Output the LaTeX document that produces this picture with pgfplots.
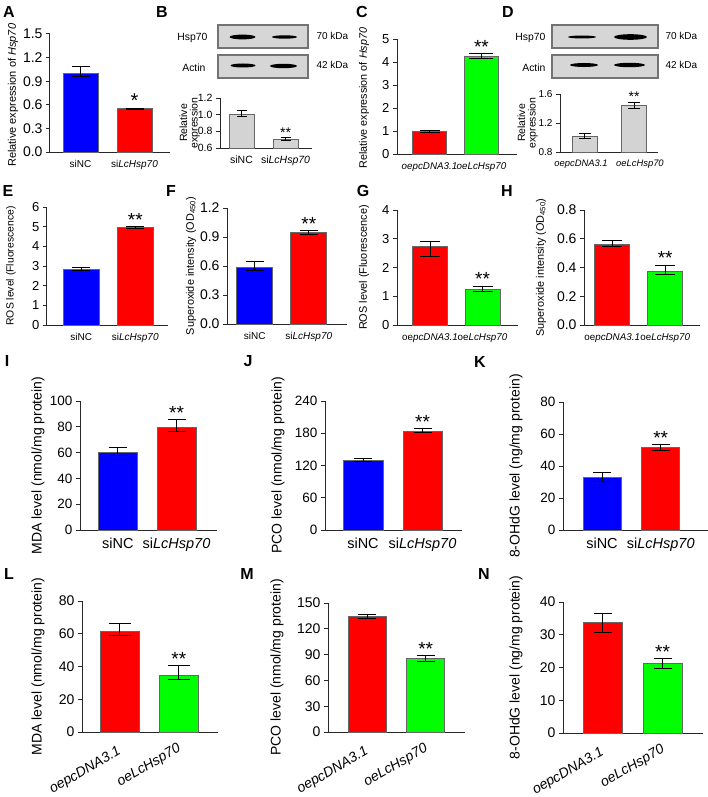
\documentclass[border=0pt]{standalone}
\usepackage{fontspec}
\setmainfont{Liberation Sans}
\usepackage{pgfplots}
\pgfplotsset{compat=1.18}
\newcommand{\fs}[1]{\fontsize{#1}{#1}\selectfont}
\definecolor{cblue}{RGB}{0,0,255}
\definecolor{cred}{RGB}{255,0,0}
\definecolor{cgreen}{RGB}{0,255,0}
\definecolor{cgray}{RGB}{211,211,211}
\definecolor{axgray}{RGB}{40,40,40}
\definecolor{blotbg}{RGB}{214,214,214}
\pgfplotsset{
 panel/.style={scale only axis, anchor=south west, axis x line*=bottom, axis y line*=left,
   axis line style={-, line width=1pt, draw=axgray}, xtick={0,1}, xtick style={draw=none},
   ytick style={line width=1pt, draw=axgray}, tick align=outside, major tick length=4pt,
   clip mode=individual, /pgf/number format/assume math mode=true, ymin=0,
   ylabel style={anchor=center, align=center}, xticklabel style={inner sep=1pt}, xticklabel shift=3pt},
 fixed1/.style={yticklabel style={/pgf/number format/fixed, /pgf/number format/fixed zerofill, /pgf/number format/precision=1}},
 hbar/.style n args={3}{ybar, bar shift=0pt, bar width=#1, fill=#2, draw=black!60, line width=0.7pt,
   error bars/.cd, y dir=both, y explicit, error bar style={line width=0.8pt, black},
   error mark options={rotate=90, mark size=#3, line width=0.8pt, black}},
}
\tikzset{rotlab/.style={rotate=30, anchor=east, inner sep=0pt, font=\fs{14}\itshape}}
\begin{document}
\begin{tikzpicture}
\path[use as bounding box] (0pt,0pt) rectangle (708pt,-797pt);
% panel letters
\begin{scope}[x=1pt,y=-1pt]
\foreach \l/\px/\py in {A/9/12, B/162/12, C/362/12, D/508/12, E/8/191, F/171/191, G/363/191, H/507/191, I/7/361, J/248/361, K/480/362, L/9/574, M/247/574, N/484/574}
  \node[font=\fs{16}\bfseries, inner sep=0pt] at (\px,\py) {\l};
% blot B
\draw[line width=1.2pt, draw=black!55, fill=blotbg] (218,25) rectangle (308,48);
\fill[black] (242.5,37) ellipse (13 and 2.4);
\fill[black] (284.5,37) ellipse (12.5 and 1.7);
\draw[line width=1.2pt, draw=black!55, fill=blotbg] (218,55) rectangle (308,78);
\fill[black] (243,65.5) ellipse (12.5 and 2);
\fill[black] (283.5,66) ellipse (13.5 and 2.2);
\node[anchor=east, font=\fs{10.4}] at (211,38) {Hsp70};
\node[anchor=east, font=\fs{10.4}] at (209,68) {Actin};
\node[anchor=west, font=\fs{10}] at (313,36) {70 kDa};
\node[anchor=west, font=\fs{10}] at (313,65) {42 kDa};
% blot D
\draw[line width=1.2pt, draw=black!55, fill=blotbg] (552,25) rectangle (658,48);
\fill[black] (582,37) ellipse (14 and 1.5);
\fill[black] (630.5,37) ellipse (16.5 and 2.8);
\draw[line width=1.2pt, draw=black!55, fill=blotbg] (552,55) rectangle (658,78);
\fill[black] (584,65) ellipse (14 and 2);
\fill[black] (629.5,65) ellipse (15.5 and 2.2);
\node[anchor=east, font=\fs{10.4}] at (549,38) {Hsp70};
\node[anchor=east, font=\fs{10.4}] at (549,68) {Actin};
\node[anchor=west, font=\fs{10}] at (662,36) {70 kDa};
\node[anchor=west, font=\fs{10}] at (662,65) {42 kDa};
\end{scope}

% A
\begin{axis}[panel, fixed1, at={(50pt,-152pt)}, width=120pt, height=118pt,
  xmin=-0.565, xmax=1.657, ymax=1.5, ytick={0,0.3,0.6,0.9,1.2,1.5},
  tick label style={font=\fs{14}}, xticklabel style={font=\fs{10}},
  xticklabels={siNC, si\textit{LcHsp70}},
  ylabel={Relative expression of \textit{Hsp70}}, ylabel style={font=\fs{11}, at={(axis description cs:-0.308,0.48)}}]
\addplot[hbar={35pt}{cblue}{9pt}] coordinates {(0,1.0) += (0,0.09) -= (0,0.045)};
\addplot[hbar={35pt}{cred}{9pt}] coordinates {(1,0.55) += (0,0.01) -= (0,0.005)};
\node[font=\fs{20}, anchor=base, inner sep=0pt] at (axis cs:1,0.56) {*};
\end{axis}

% B
\begin{axis}[panel, fixed1, at={(220pt,-148pt)}, width=92pt, height=50pt,
  xmin=-0.489, xmax=1.602, ymin=0.6, ymax=1.2, ytick={0.6,0.8,1.0,1.2},
  tick label style={font=\fs{10.5}}, xticklabel style={font=\fs{10.5}},
  xticklabels={siNC, si\textit{LcHsp70}},
  ylabel={Relative\\expression}, ylabel style={font=\fs{10.5}, at={(axis description cs:-0.33,0.5)}}]
\addplot[hbar={25pt}{cgray}{5pt}] coordinates {(0,1.008) += (0,0.04) -= (0,0.03)};
\addplot[hbar={25pt}{cgray}{5pt}] coordinates {(1,0.70) += (0,0.028) -= (0,0.012)};
\node[font=\fs{14}, anchor=base, inner sep=0pt] at (axis cs:1,0.73) {**};
\end{axis}

% C
\begin{axis}[panel, at={(397pt,-154pt)}, width=120pt, height=115pt,
  xmin=-0.625, xmax=1.683, ymax=5, ytick={0,1,2,3,4,5},
  tick label style={font=\fs{13}}, xticklabel style={font=\fs{9.8}},
  xticklabels={\textit{oepcDNA3.1}, \textit{oeLcHsp70}},
  ylabel={Relative expression of \textit{Hsp70}}, ylabel style={font=\fs{10.8}, at={(axis description cs:-0.275,0.487)}}]
\addplot[hbar={34pt}{cred}{10pt}] coordinates {(0,0.986) += (0,0.03) -= (0,0.03)};
\addplot[hbar={34pt}{cgreen}{12pt}] coordinates {(1,4.246) += (0,0.11) -= (0,0.08)};
\node[font=\fs{19}, anchor=base, inner sep=0pt] at (axis cs:1,4.36) {**};
\end{axis}

% D
\begin{axis}[panel, fixed1, at={(560pt,-152pt)}, width=98pt, height=58pt,
  xmin=-0.495, xmax=1.485, ymin=0.8, ymax=1.6, ytick={0.8,1.2,1.6},
  xtick={-0.07,1.12},
  tick label style={font=\fs{10}}, xticklabel style={font=\fs{9.4}},
  xticklabels={\textit{oepcDNA3.1}, \textit{oeLcHsp70}},
  ylabel={Relative\\expression}, ylabel style={font=\fs{10.5}, at={(axis description cs:-0.33,0.5)}}]
\addplot[hbar={25pt}{cgray}{6pt}] coordinates {(0,1.02) += (0,0.03) -= (0,0.03)};
\addplot[hbar={25pt}{cgray}{6pt}] coordinates {(1,1.437) += (0,0.053) -= (0,0.042)};
\node[font=\fs{14}, anchor=base, inner sep=0pt] at (axis cs:1,1.49) {**};
\end{axis}

% E
\begin{axis}[panel, at={(47pt,-325pt)}, width=121pt, height=118pt,
  xmin=-0.635, xmax=1.606, ymax=6, ytick={0,1,2,3,4,5,6},
  tick label style={font=\fs{13}}, xticklabel style={font=\fs{10}},
  xticklabels={siNC, si\textit{LcHsp70}},
  ylabel={ROS level (Fluorescence)}, ylabel style={font=\fs{10.4}, at={(axis description cs:-0.298,0.5)}}]
\addplot[hbar={36pt}{cblue}{9pt}] coordinates {(0,2.84) += (0,0.08) -= (0,0.05)};
\addplot[hbar={36pt}{cred}{9pt}] coordinates {(1,4.96) += (0,0.05) -= (0,0.04)};
\node[font=\fs{19}, anchor=base, inner sep=0pt] at (axis cs:1,5.01) {**};
\end{axis}

% F
\begin{axis}[panel, fixed1, at={(227pt,-324pt)}, width=120pt, height=116pt,
  xmin=-0.512, xmax=1.706, ymax=1.2, ytick={0,0.3,0.6,0.9,1.2},
  tick label style={font=\fs{14}}, xticklabel style={font=\fs{10}},
  xticklabels={siNC, si\textit{LcHsp70}},
  ylabel={Superoxide intensity (OD\textsubscript{450})}, ylabel style={font=\fs{10.9}, at={(axis description cs:-0.3,0.5)}}]
\addplot[hbar={36pt}{cblue}{9pt}] coordinates {(0,0.59) += (0,0.062) -= (0,0.04)};
\addplot[hbar={36pt}{cred}{9pt}] coordinates {(1,0.948) += (0,0.024) -= (0,0.017)};
\node[font=\fs{19}, anchor=base, inner sep=0pt] at (axis cs:1,0.972) {**};
\end{axis}

% G
\begin{axis}[panel, at={(397pt,-325pt)}, width=121pt, height=115pt,
  xmin=-0.629, xmax=1.676, ymax=4, ytick={0,1,2,3,4},
  tick label style={font=\fs{13}}, xticklabel style={font=\fs{9.8}},
  xticklabels={oe\textit{pcDNA3.1}, oe\textit{LcHsp70}},
  ylabel={ROS level (Fluorescence)}, ylabel style={font=\fs{10.9}, at={(axis description cs:-0.273,0.5)}}]
\addplot[hbar={35pt}{cred}{10pt}] coordinates {(0,2.72) += (0,0.18) -= (0,0.34)};
\addplot[hbar={35pt}{cgreen}{10pt}] coordinates {(1,1.25) += (0,0.11) -= (0,0.09)};
\node[font=\fs{19}, anchor=base, inner sep=0pt] at (axis cs:1,1.36) {**};
\end{axis}

% H
\begin{axis}[panel, fixed1, at={(584pt,-325pt)}, width=116pt, height=115pt,
  xmin=-0.532, xmax=1.657, ymax=0.8, ytick={0,0.2,0.4,0.6,0.8},
  tick label style={font=\fs{14}}, xticklabel style={font=\fs{9.8}},
  xticklabels={oe\textit{pcDNA3.1}, oe\textit{LcHsp70}},
  ylabel={Superoxide intensity (OD\textsubscript{450})}, ylabel style={font=\fs{10.9}, at={(axis description cs:-0.371,0.5)}}]
\addplot[hbar={35pt}{cred}{10pt}] coordinates {(0,0.564) += (0,0.023) -= (0,0.019)};
\addplot[hbar={35pt}{cgreen}{10pt}] coordinates {(1,0.376) += (0,0.042) -= (0,0.023)};
\node[font=\fs{19}, anchor=base, inner sep=0pt] at (axis cs:1,0.418) {**};
\end{axis}

% I
\begin{axis}[panel, at={(80pt,-530pt)}, width=137pt, height=129pt,
  xmin=-0.646, xmax=1.69, ymax=100, ytick={0,20,40,60,80,100},
  tick label style={font=\fs{13.5}}, xticklabel style={font=\fs{14.5}},
  xticklabels={siNC, si\textit{LcHsp70}},
  ylabel={MDA level (nmol/mg protein)}, ylabel style={font=\fs{14}, at={(axis description cs:-0.307,0.5)}}]
\addplot[hbar={39pt}{cblue}{9pt}] coordinates {(0,60.2) += (0,3.6) -= (0,2.1)};
\addplot[hbar={39pt}{cred}{9pt}] coordinates {(1,79.6) += (0,6.2) -= (0,3.4)};
\node[font=\fs{19}, anchor=base, inner sep=0pt] at (axis cs:1,85.8) {**};
\end{axis}

% J
\begin{axis}[panel, at={(325pt,-530pt)}, width=137pt, height=129pt,
  xmin=-0.639, xmax=1.664, ymax=240, ytick={0,60,120,180,240},
  tick label style={font=\fs{13.5}}, xticklabel style={font=\fs{14.5}},
  xticklabels={siNC, si\textit{LcHsp70}},
  ylabel={PCO level (nmol/mg protein)}, ylabel style={font=\fs{14}, at={(axis description cs:-0.343,0.5)}}]
\addplot[hbar={40pt}{cblue}{9pt}] coordinates {(0,130) += (0,2.5) -= (0,2)};
\addplot[hbar={39pt}{cred}{9pt}] coordinates {(1,184) += (0,5) -= (0,3)};
\node[font=\fs{19}, anchor=base, inner sep=0pt] at (axis cs:1,189) {**};
\end{axis}

% K
\begin{axis}[panel, at={(563pt,-530pt)}, width=145pt, height=128pt,
  xmin=-0.664, xmax=1.805, ymax=80, ytick={0,20,40,60,80},
  tick label style={font=\fs{13.5}}, xticklabel style={font=\fs{14.5}},
  xticklabels={siNC, si\textit{LcHsp70}},
  ylabel={8-OHdG level (ng/mg protein)}, ylabel style={font=\fs{14}, at={(axis description cs:-0.324,0.5)}}]
\addplot[hbar={38pt}{cblue}{9pt}] coordinates {(0,33.2) += (0,2.8) -= (0,2.7)};
\addplot[hbar={38pt}{cred}{9pt}] coordinates {(1,51.5) += (0,1.9) -= (0,2)};
\node[font=\fs{19}, anchor=base, inner sep=0pt] at (axis cs:1,53.4) {**};
\end{axis}

% L
\begin{axis}[panel, at={(82pt,-732pt)}, width=136pt, height=131pt,
  xmin=-0.641, xmax=1.663, ymax=80, ytick={0,20,40,60,80}, xticklabels={},
  tick label style={font=\fs{14}},
  ylabel={MDA level (nmol/mg protein)}, ylabel style={font=\fs{14}, at={(axis description cs:-0.324,0.5)}}]
\addplot[hbar={39pt}{cred}{11pt}] coordinates {(0,61.5) += (0,5.1) -= (0,2.5)};
\addplot[hbar={39pt}{cgreen}{11pt}] coordinates {(1,34.4) += (0,6.1) -= (0,2.4)};
\node[font=\fs{19}, anchor=base, inner sep=0pt] at (axis cs:1,40.5) {**};
\node[rotlab] at ([yshift=-19pt]axis cs:0,0) {oepcDNA3.1};
\node[rotlab] at ([xshift=1pt,yshift=-16pt]axis cs:1,0) {oeLcHsp70};
\end{axis}

% M
\begin{axis}[panel, at={(328pt,-732pt)}, width=137pt, height=129pt,
  xmin=-0.672, xmax=1.672, ymax=150, ytick={0,30,60,90,120,150}, xticklabels={},
  tick label style={font=\fs{14}},
  ylabel={PCO level (nmol/mg protein)}, ylabel style={font=\fs{14}, at={(axis description cs:-0.372,0.5)}}]
\addplot[hbar={38pt}{cred}{9pt}] coordinates {(0,134.4) += (0,2.6) -= (0,2)};
\addplot[hbar={38pt}{cgreen}{9pt}] coordinates {(1,85.3) += (0,3.9) -= (0,3.1)};
\node[font=\fs{19}, anchor=base, inner sep=0pt] at (axis cs:1,89.2) {**};
\node[rotlab] at ([yshift=-19pt]axis cs:0,0) {oepcDNA3.1};
\node[rotlab] at ([xshift=1pt,yshift=-16pt]axis cs:1,0) {oeLcHsp70};
\end{axis}

% N
\begin{axis}[panel, at={(563pt,-733pt)}, width=140pt, height=131pt,
  xmin=-0.664, xmax=1.677, ymax=40, ytick={0,10,20,30,40}, xticklabels={},
  tick label style={font=\fs{14}},
  ylabel={8-OHdG level (ng/mg protein)}, ylabel style={font=\fs{14}, at={(axis description cs:-0.336,0.5)}}]
\addplot[hbar={39pt}{cred}{9pt}] coordinates {(0,33.7) += (0,2.7) -= (0,2.9)};
\addplot[hbar={39pt}{cgreen}{9pt}] coordinates {(1,21.2) += (0,1.5) -= (0,1.6)};
\node[font=\fs{19}, anchor=base, inner sep=0pt] at (axis cs:1,22.7) {**};
\node[rotlab] at ([yshift=-19pt]axis cs:0,0) {oepcDNA3.1};
\node[rotlab] at ([xshift=1pt,yshift=-16pt]axis cs:1,0) {oeLcHsp70};
\end{axis}
\end{tikzpicture}
\end{document}
